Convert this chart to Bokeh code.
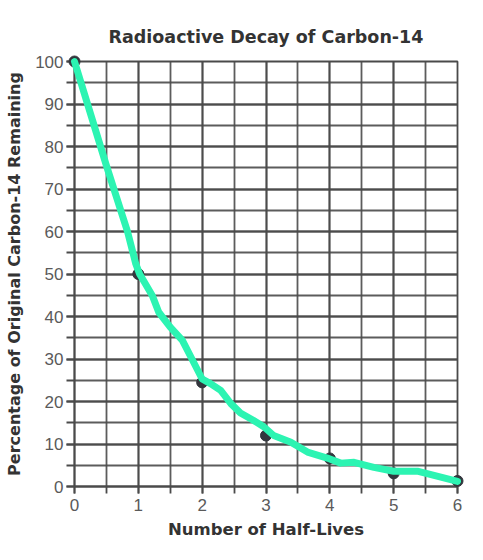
from bokeh.plotting import figure
from bokeh.models import Range1d, FixedTicker
from bokeh.embed import file_html
from bokeh.resources import INLINE
import numpy as np

# ---- data ----
half_lives = [0, 1, 2, 3, 4, 5, 6]
percent_remaining = [100, 50, 24.5, 12, 6.6, 3.1, 1.3]

# hand-drawn (green) curve
trace_x = [0, 0.5, 0.83, 0.96, 1.02, 1.11, 1.22, 1.32, 1.50, 1.69, 1.84, 2.00, 2.13,
           2.29, 2.45, 2.60, 2.80, 2.97, 3.12, 3.39, 3.65, 3.96, 4.17, 4.38, 4.69,
           5.00, 5.37, 5.74, 6.0]
trace_y = [100, 75.5, 60, 52.4, 50, 47.7, 44.9, 41.0, 37.5, 34.4, 30.0, 25.3, 24.2,
           22.6, 19.5, 17.3, 15.6, 14.0, 12.0, 10.4, 8.1, 6.7, 5.5, 5.7, 4.5,
           3.6, 3.6, 2.2, 1.2]

x_ticks = [0, 1, 2, 3, 4, 5, 6]
x_minor = list(np.arange(0, 6.01, 0.5))
y_ticks = [0, 10, 20, 30, 40, 50, 60, 70, 80, 90, 100]
y_minor = list(range(0, 101, 5))

FONT = "Liberation Sans"
BOLD_FONT = "DejaVu Sans"
GRID = "#4a4a4a"

p = figure(width=475, height=552, output_backend="svg", toolbar_location=None,
           x_range=Range1d(0, 6), y_range=Range1d(0, 100),
           title="Radioactive Decay of Carbon-14",
           min_border_left=74, min_border_right=18, min_border_top=61, min_border_bottom=66)

p.title.text_font = BOLD_FONT
p.title.text_font_size = "17.5px"
p.title.text_font_style = "bold"
p.title.text_color = "#333333"
p.title.align = "center"
p.title.standoff = 29

p.outline_line_color = GRID
p.outline_line_width = 1.8
p.background_fill_color = "white"
p.border_fill_color = "white"

# grids
p.xgrid.ticker = FixedTicker(ticks=x_ticks, minor_ticks=x_minor)
p.ygrid.ticker = FixedTicker(ticks=y_ticks, minor_ticks=y_minor)
for g in (p.xgrid, p.ygrid):
    g.grid_line_color = GRID
    g.grid_line_width = 1.8
    g.grid_line_alpha = 0.9
    g.minor_grid_line_color = GRID
    g.minor_grid_line_width = 1.8
    g.minor_grid_line_alpha = 0.9

# axes
p.xaxis.ticker = FixedTicker(ticks=x_ticks, minor_ticks=x_minor)
p.yaxis.ticker = FixedTicker(ticks=y_ticks, minor_ticks=y_minor)
for ax in (p.xaxis, p.yaxis):
    ax.axis_line_color = GRID
    ax.axis_line_width = 1.8
    ax.major_tick_line_color = GRID
    ax.minor_tick_line_color = GRID
    ax.major_tick_line_width = 1.8
    ax.minor_tick_line_width = 1.8
    ax.major_tick_in = 0
    ax.minor_tick_in = 0
    ax.major_label_text_font = FONT
    ax.major_label_text_font_size = "17px"
    ax.major_label_text_color = "#5a5a5a"
    ax.axis_label_text_font = BOLD_FONT
    ax.axis_label_text_font_style = "bold"
    ax.axis_label_text_color = "#333333"

p.xaxis.major_tick_out = 7
p.xaxis.minor_tick_out = 7
p.xaxis.major_label_standoff = 5
p.xaxis.axis_label = "Number of Half-Lives"
p.xaxis.axis_label_text_font_size = "16.5px"
p.xaxis.axis_label_standoff = 6

p.yaxis.major_tick_out = 8
p.yaxis.minor_tick_out = 8
p.yaxis.major_label_standoff = 3
p.yaxis.axis_label = "Percentage of Original Carbon-14 Remaining"
p.yaxis.axis_label_text_font_size = "16px"
p.yaxis.axis_label_standoff = 8

# data points and hand-drawn curve (not clipped to the frame)
p.scatter(half_lives, percent_remaining, size=11, color="#33363d", level="annotation")
p.line(trace_x, trace_y, line_color="#2cf4b2", line_width=7, line_join="round",
       line_cap="round", level="annotation")

open("out.html", "w").write(file_html(p, INLINE))
